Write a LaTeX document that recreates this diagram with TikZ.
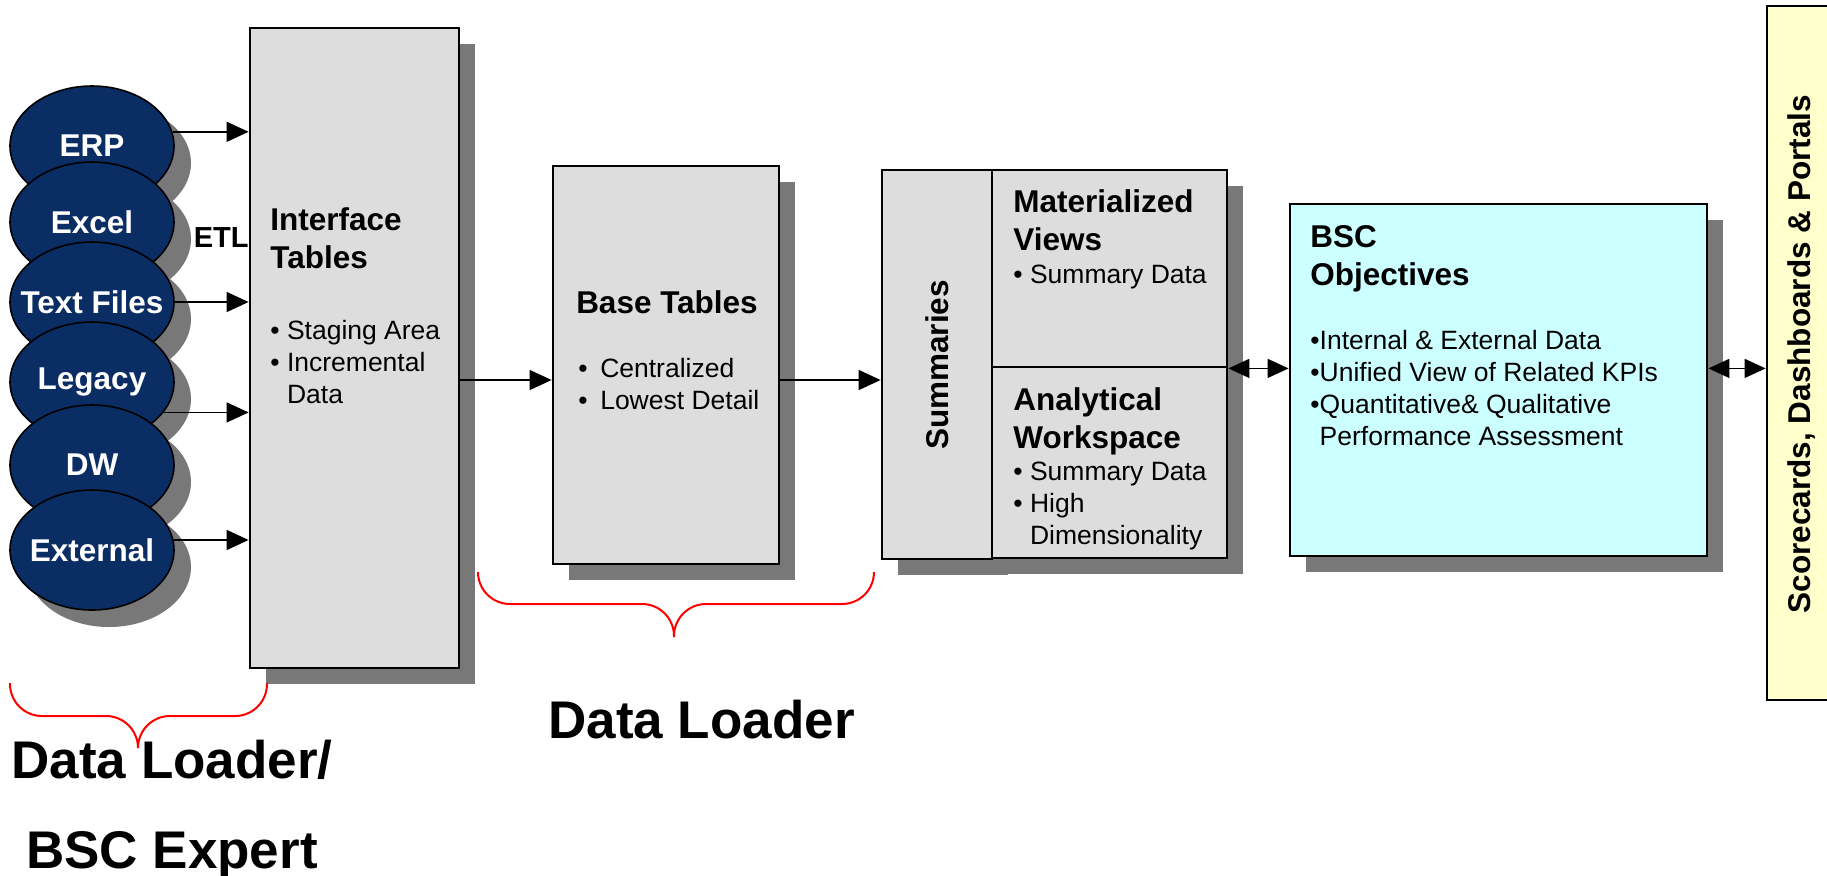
\documentclass[tikz,border=0pt]{standalone}
\usepackage{fontspec}
\setmainfont{Liberation Sans}
\usepackage{tikz}
\usetikzlibrary{shapes.geometric,shadows,arrows.meta}
\definecolor{srcblue}{RGB}{10,45,100}
\definecolor{tablegray}{RGB}{221,221,221}
\definecolor{shadowgray}{RGB}{120,120,120}
\definecolor{bsccyan}{RGB}{204,255,255}
\definecolor{portalyellow}{RGB}{255,255,204}
\newcommand{\boxtitle}{\fontsize{15.75pt}{19pt}\selectfont\bfseries}
\newcommand{\boxbody}{\fontsize{13.25pt}{15.9pt}\selectfont}
\newcommand{\srcfont}{\fontsize{15.75pt}{19pt}\selectfont\bfseries}
\newcommand{\etlfont}{\fontsize{14.5pt}{17pt}\selectfont\bfseries}
\newcommand{\loaderfont}{\fontsize{26.5pt}{45pt}\selectfont\bfseries}
\tikzstyle{source}=[ellipse, draw, line width=0.8pt, fill=srcblue, minimum width=82pt, minimum height=60pt, inner sep=0pt, drop shadow={shadow xshift=8.5pt, shadow yshift=-8.5pt, opacity=1, fill=shadowgray}]
\tikzstyle{srclabel}=[text=white, font=\srcfont, inner sep=0pt]
\tikzstyle{tablebox}=[rectangle, draw, line width=1.4pt, fill=tablegray, inner sep=0pt, drop shadow={shadow xshift=8pt, shadow yshift=-8pt, opacity=1, fill=shadowgray}]
\tikzstyle{portalbox}=[rectangle, draw, line width=1.4pt, fill=portalyellow, inner sep=0pt]
\tikzstyle{heading}=[anchor=base west, align=left, inner sep=0pt, font=\boxtitle]
\tikzstyle{bullets}=[anchor=base west, align=left, inner sep=0pt, font=\boxbody]
\tikzstyle{flow}=[line width=0.7pt, -{Triangle[length=11pt,width=10pt]}]
\tikzstyle{bothflow}=[line width=0.7pt, {Triangle[length=10.5pt,width=9.5pt]}-{Triangle[length=10.5pt,width=9.5pt]}]
\tikzstyle{brace}=[red, line width=1pt, rounded corners=16pt]
\begin{document}
\begin{tikzpicture}[x=0.5pt,y=-0.5pt]
\useasboundingbox (0,0) rectangle (1827,875);
%Sources
\node[source, label={[srclabel]center:ERP}] (erp) at (92,146){};
\node[source, label={[srclabel]center:Excel}] (excel) at (92,222){};
\node[source, label={[srclabel]center:Text Files}] (files) at (92,302){};
\node[source, label={[srclabel]center:Legacy}] (legacy) at (92,382){};
\node[source, label={[srclabel]center:DW}] (dw) at (92,465){};
\node[source, label={[srclabel]center:External}] (ext) at (92,550){};

%Interface and base tables
\node[tablebox, minimum width=104.5pt, minimum height=320pt] (it) at (354.5,348){};
\node[heading] (ithead) at (270,268){Interface\\Tables};
\node[bullets] (itlist) at (270,403){• Staging Area\\• Incremental\\\phantom{• }Data};
\node[font=\etlfont, anchor=base east, inner sep=0pt] (etl) at (249,247){ETL};
\node[tablebox, minimum width=113pt, minimum height=199pt] (bt) at (666,365){};
\node[heading, anchor=base] (bthead) at (667,313){Base Tables};
\node[bullets] (btlist) at (578,409){•\hspace{6.3pt}Centralized\\•\hspace{6.3pt}Lowest Detail};

%Summaries
\node[tablebox, minimum width=55pt, minimum height=194.5pt] (sum) at (937,364.5){};
\node[font=\boxtitle, rotate=90] (sumlabel) at (937,365){Summaries};
\node[tablebox, minimum width=117.5pt, minimum height=98.5pt] (mv) at (1109.5,268.5){};
\node[tablebox, minimum width=117.5pt, minimum height=95.5pt] (aw) at (1109.5,462.5){};
\node[heading] (mvhead) at (1013,250){Materialized\\Views};
\node[bullets] (mvlist) at (1013,283){• Summary Data};
\node[heading] (awhead) at (1013,448){Analytical\\Workspace};
\node[bullets] (awlist) at (1013,544){• Summary Data\\• High\\\phantom{• }Dimensionality};

%BSC
\node[tablebox, fill=bsccyan, minimum width=208.5pt, minimum height=176pt] (bsc) at (1498.5,380){};
\node[heading] (bschead) at (1310,285){BSC\\Objectives};
\node[bullets] (bsclist) at (1310,445){•Internal \& External Data\\•Unified View of Related KPIs\\•Quantitative\& Qualitative\\\phantom{•}Performance Assessment};

%Portals
\node[portalbox, minimum width=39pt, minimum height=347pt] (sc) at (1806,353){};
\node[font=\boxtitle, rotate=90] (sclabel) at (1802,354){Scorecards, Dashboards \& Portals};

%Arrows
\coordinate (mainline) at (0,380);
\draw[flow] (erp.10) -- (erp.10 -| it.west);
\draw[flow] (files.east) -- (files.east -| it.west);
\draw[flow] (legacy.337) -- (legacy.337 -| it.west);
\draw[flow] (ext.7) -- (ext.7 -| it.west);
\draw[flow] (it.east |- mainline) -- (bt.west |- mainline);
\draw[flow] (bt.east |- mainline) -- (sum.west |- mainline);
\draw[bothflow] (mv.south east) -- (bsc.west |- mv.south east);
\draw[bothflow] (bsc.east |- mv.south east) -- (sc.west |- mv.south east);

%Braces
\draw[brace] (10,683) |- (138,716) -- (138,748);
\draw[brace] (267,683) |- (138,716) -- (138,748);
\draw[brace] (478,572) |- (674,604) -- (674,637);
\draw[brace] (874,572) |- (674,604) -- (674,637);

%Loader labels
\node[font=\loaderfont, anchor=base, align=center, inner sep=0pt] (expert) at (172,868){Data Loader/\\BSC Expert};
\node[font=\loaderfont, anchor=base west, inner sep=0pt] (loader) at (548,738){Data Loader};
\end{tikzpicture}
\end{document}
